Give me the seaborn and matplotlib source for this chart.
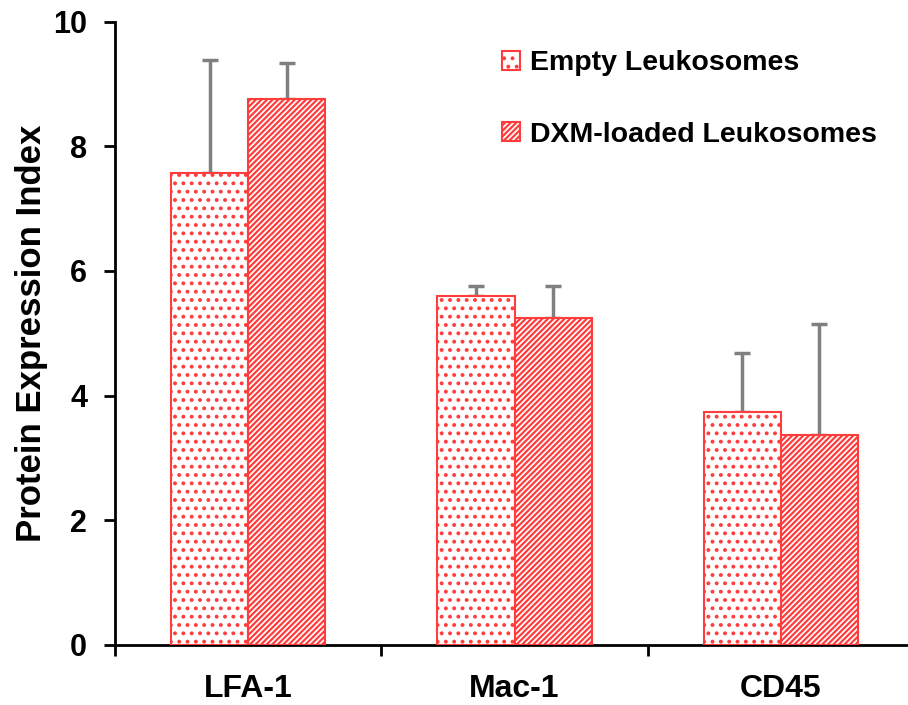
import matplotlib
matplotlib.use("Agg")
import matplotlib.pyplot as plt
import seaborn as sns
import pandas as pd
import numpy as np

categories = ["LFA-1", "Mac-1", "CD45"]
series = ["Empty Leukosomes", "DXM-loaded Leukosomes"]
empty_vals = [7.57, 5.59, 3.74]
dxm_vals = [8.75, 5.25, 3.37]
empty_err = [1.82, 0.16, 0.95]
dxm_err = [0.59, 0.50, 1.78]
yticks = [0, 2, 4, 6, 8, 10]

sns.set_theme(style="white")
plt.rcParams["font.family"] = ["Liberation Sans", "DejaVu Sans"]
plt.rcParams["text.color"] = "black"
plt.rcParams["axes.labelcolor"] = "black"
plt.rcParams["xtick.color"] = "black"
plt.rcParams["ytick.color"] = "black"
plt.rcParams["hatch.linewidth"] = 1.6
RED = "#ff3d3d"
plt.rcParams["hatch.color"] = RED

df = pd.DataFrame({
    "cat": categories * 2,
    "series": [series[0]] * 3 + [series[1]] * 3,
    "val": empty_vals + dxm_vals,
})

fig = plt.figure(figsize=(9.08, 7.05), dpi=100)
ax = fig.add_axes([115 / 908, 60 / 705, 799 / 908, 623.5 / 705])
sns.barplot(data=df, x="cat", y="val", hue="series", order=categories,
            hue_order=series, width=0.58, errorbar=None, ax=ax,
            palette=["white", "white"], edgecolor=RED, linewidth=1.5)

hatches = ["..", "//////"]
errs = [empty_err, dxm_err]
vals = [empty_vals, dxm_vals]
bar_conts = list(ax.containers)
for i, cont in enumerate(bar_conts):
    xs = []
    for p in cont.patches:
        p.set_hatch(hatches[i])
        p.set_edgecolor(RED)
        p.set_zorder(3)
        xs.append(p.get_x() + p.get_width() / 2)
    ax.errorbar(xs, vals[i], yerr=[np.zeros(len(errs[i])), errs[i]], fmt="none",
                ecolor="#808080", elinewidth=2.5, capsize=6, capthick=2.5, zorder=1)

ax.set_ylim(0, 10)
ax.set_yticks(yticks)
ax.set_xlim(-0.5, 2.5)
ax.set_xticks([-0.5, 0.5, 1.5, 2.5], minor=False)
ax.set_xticklabels([])
ax.set_xticks([0, 1, 2], minor=True)
ax.set_xticklabels(categories, minor=True, fontsize=23, fontweight="bold", color="black")
ax.tick_params(axis="x", which="minor", length=0, pad=21)
ax.tick_params(axis="x", which="major", direction="out", length=8, width=2, color="black", bottom=True)
ax.tick_params(axis="y", direction="out", length=8, width=2, color="black", left=True,
               labelsize=22, pad=12, labelcolor="black")
for t in ax.get_yticklabels():
    t.set_fontweight("bold")
ax.set_xlabel("")
ax.set_ylabel("Protein Expression Index", fontsize=25, fontweight="bold", labelpad=4, color="black")
for s in ["top", "right"]:
    ax.spines[s].set_visible(False)
for s in ["left", "bottom"]:
    ax.spines[s].set_color("black")
    ax.spines[s].set_linewidth(2)

leg = ax.legend(loc="upper left", bbox_to_anchor=(0.452, 0.995), frameon=False,
                prop={"weight": "bold", "size": 20.5}, handlelength=0.65, handleheight=0.65,
                handletextpad=0.35, labelspacing=1.6)
for t in leg.get_texts():
    t.set_color("black")
for h, hat in zip(leg.legend_handles, hatches):
    h.set_hatch(hat)
    h.set_edgecolor(RED)

fig.savefig("out.png", dpi=100)
